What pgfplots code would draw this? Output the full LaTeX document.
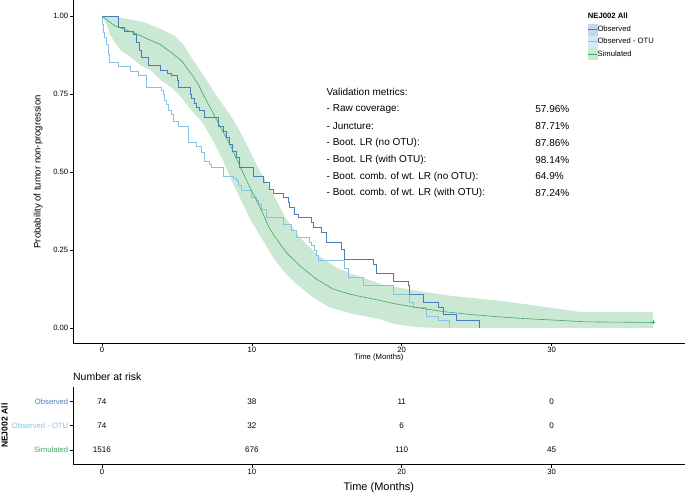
\documentclass[border=0pt]{standalone}
\usepackage{pgfplots}
\pgfplotsset{compat=1.18}
\usepgfplotslibrary{fillbetween}
\usepackage{fontspec}
\setmainfont{Liberation Sans}
\definecolor{obsc}{RGB}{74,126,186}
\definecolor{otuc}{RGB}{137,193,226}
\definecolor{simc}{RGB}{65,168,98}
\definecolor{simfill}{RGB}{202,232,212}
\definecolor{obsfill}{RGB}{200,214,234}
\definecolor{otufill}{RGB}{212,233,246}
\newcommand{\fs}[1]{\fontsize{#1}{#1}\selectfont}
\begin{document}
\begin{tikzpicture}
\path (0pt,0pt) rectangle (685pt,493pt);
\begin{axis}[
  at={(73pt,150.4pt)}, anchor=south west,
  width=612pt, height=343.2pt, scale only axis,
  xmin=-1.93, xmax=38.87, ymin=-0.05, ymax=1.05,
  axis lines=left, axis line style={-, black, line width=0.7pt},
  tick align=outside, major tick length=3pt, tick style={black, line width=0.5pt},
  xtick={0,10,20,30}, xticklabels={0,10,20,30},
  ytick={0,0.25,0.5,0.75,1}, yticklabels={0.00,0.25,0.50,0.75,1.00},
  /pgf/number format/assume math mode=true,
  ticklabel style={font=\fs{7.7}},
  xticklabel style={inner sep=1pt},
  yticklabel style={inner sep=1.5pt},
  xlabel={Time (Months)},
  xlabel style={font=\fs{7.7}, at={(axis description cs:0.5,-0.042)}, anchor=center},
  ylabel={Probability of tumor non-progression},
  ylabel style={font=\fs{9.5}, at={(axis description cs:-0.057,0.5)}, anchor=center, rotate=0},
  clip=false,
  legend style={at={(axis description cs:0.8415,0.933)}, anchor=north west, draw=none, fill=none,
    font=\fs{7.7}, inner sep=0pt, row sep=1pt,
    nodes={inner sep=0pt, anchor=west},
    /tikz/every even column/.append style={column sep=4pt}},
  legend cell align=left,
]
% simulated band
\addplot[name path=upper, draw=none, forget plot] coordinates {
(0,1) (0.87,0.997) (1.76,0.99) (2.87,0.979) (3.98,0.957) (4.87,0.936) (5.42,0.909)
(5.98,0.866) (6.87,0.802) (7.7,0.74) (8.53,0.685) (9.2,0.631) (9.87,0.567) (10.53,0.503)
(11.2,0.45) (11.87,0.386) (12.2,0.355) (13.2,0.29) (14.31,0.236) (15.64,0.193) (16.6,0.174)
(18.75,0.138) (20.98,0.119) (23.2,0.103) (26.5,0.087) (28.5,0.074) (30.5,0.06) (31.87,0.051) (36.75,0.051)};
\addplot[name path=lower, draw=none, forget plot] coordinates {
(0,1) (0.31,0.973) (0.53,0.941) (0.87,0.914) (1.31,0.888) (1.98,0.866) (2.64,0.84) (3.31,0.824)
(3.98,0.792) (4.64,0.77) (5.31,0.738) (5.98,0.696) (6.2,0.685) (6.75,0.655) (7.42,0.599)
(8.09,0.535) (8.76,0.46) (9.42,0.396) (9.95,0.343) (10.76,0.279) (11.42,0.225) (12.09,0.183)
(12.98,0.14) (14.09,0.097) (15.2,0.065) (16.75,0.044) (18.53,0.028) (19.5,0.012) (21,0.002)
(22,0) (36.75,0)};
\addplot[simfill, forget plot] fill between[of=upper and lower];
% observed - OTU
\addplot[otuc, line width=0.8pt, const plot, forget plot] coordinates {
(0,1) (0.05,0.973) (0.1,0.946) (0.2,0.932) (0.31,0.909) (0.42,0.877) (0.53,0.85) (1.09,0.837)
(1.87,0.822) (2.42,0.808) (2.98,0.77) (3.98,0.76) (4.09,0.749) (4.2,0.728) (4.31,0.717)
(4.42,0.696) (4.64,0.685) (4.75,0.663) (5.09,0.647) (5.76,0.594) (6.31,0.583) (6.64,0.562)
(6.87,0.535) (7.2,0.524) (7.31,0.514) (8.09,0.487) (8.76,0.478) (8.98,0.471) (9.09,0.455)
(9.31,0.439) (9.98,0.418) (10.31,0.407) (10.42,0.396) (10.64,0.38) (10.98,0.354) (12.09,0.332)
(12.64,0.311) (12.98,0.29) (13.87,0.273) (13.98,0.263) (14.2,0.247) (14.31,0.231) (14.42,0.215)
(16.2,0.19) (16.42,0.161) (17.42,0.135) (19.42,0.108) (20.53,0.081) (20.75,0.065) (21.64,0.038)
(22.42,0.025) (23.2,0) (23.2,0)};
% observed
\addplot[obsc, line width=0.8pt, const plot, forget plot] coordinates {
(0,1) (1.09,0.962) (1.53,0.95) (2.09,0.94) (2.27,0.914) (2.49,0.888) (2.64,0.866) (3.09,0.84)
(3.87,0.826) (4.36,0.815) (4.64,0.808) (5.02,0.792) (5.09,0.77) (5.87,0.749) (6.0,0.735)
(6.2,0.72) (6.3,0.706) (6.53,0.696) (6.87,0.674) (7.76,0.647) (8.09,0.631) (8.31,0.61)
(8.53,0.589) (8.71,0.567) (8.98,0.546) (9.2,0.514) (10.09,0.487) (10.76,0.466) (11.2,0.444)
(11.42,0.432) (12.09,0.418) (12.42,0.402) (12.53,0.386) (12.87,0.364) (13.09,0.354) (13.98,0.338)
(14.09,0.321) (14.64,0.305) (14.98,0.273) (15.98,0.252) (16.2,0.22) (18.09,0.204) (18.31,0.174)
(19.42,0.148) (20.42,0.135) (20.53,0.108) (21.42,0.081) (22.42,0.065) (22.75,0.044) (23.64,0.025)
(25.2,0) (25.2,0)};
% simulated line
\addplot[simc, line width=0.6pt, forget plot] coordinates {
(0,1) (0.4,0.985) (0.87,0.968) (1.5,0.957) (2.09,0.947) (2.87,0.93) (3.87,0.909) (4.64,0.882)
(5.31,0.856) (5.98,0.813) (6.42,0.781) (6.87,0.738) (7.4,0.69) (7.87,0.647) (8.53,0.589)
(9.2,0.519) (9.87,0.45) (10.3,0.41) (10.76,0.364) (11.09,0.327) (11.42,0.30) (12.31,0.241)
(13.2,0.199) (14.31,0.156) (15.42,0.124) (16.53,0.108) (16.98,0.103) (18.53,0.088) (19.42,0.078)
(21,0.065) (22.75,0.052) (24.5,0.043) (26.5,0.035) (28,0.03) (30,0.025) (32.3,0.019)
(34.5,0.018) (36.75,0.017)};
\addplot[simc, only marks, mark=+, mark size=2pt, forget plot] coordinates {(36.75,0.017)};
% legend
\addlegendimage{legend image code/.code={\fill[obsfill] (0pt,-5.5pt) rectangle (9pt,5.5pt); \draw[obsc, line width=0.6pt] (0pt,0pt)--(9pt,0pt);}}
\addlegendentry{Observed}
\addlegendimage{legend image code/.code={\fill[otufill] (0pt,-5.5pt) rectangle (9pt,5.5pt); \draw[otuc, line width=0.6pt] (0pt,0pt)--(9pt,0pt);}}
\addlegendentry{Observed - OTU}
\addlegendimage{legend image code/.code={\fill[simfill] (0pt,-5.5pt) rectangle (9pt,5.5pt); \draw[simc, line width=0.6pt] (0pt,0pt)--(9pt,0pt);}}
\addlegendentry{Simulated}
\node[anchor=west, inner sep=0pt, font=\bfseries\fs{7.7}] at (axis description cs:0.8415,0.9545) {NEJ002 All};
% validation metrics
\node[anchor=west, inner sep=0pt, font=\fs{10}] at (axis cs:14.98,0.755) {Validation metrics:};
\node[anchor=west, inner sep=0pt, font=\fs{10}] at (axis cs:14.98,0.701) {- Raw coverage:};
\node[anchor=west, inner sep=0pt, font=\fs{10}] at (axis cs:14.98,0.647) {- Juncture:};
\node[anchor=west, inner sep=0pt, font=\fs{10}] at (axis cs:14.98,0.593) {- Boot. LR (no OTU):};
\node[anchor=west, inner sep=0pt, font=\fs{10}] at (axis cs:14.98,0.539) {- Boot. LR (with OTU):};
\node[anchor=west, inner sep=0pt, font=\fs{10}] at (axis cs:14.98,0.485) {- Boot. comb. of wt. LR (no OTU):};
\node[anchor=west, inner sep=0pt, font=\fs{10}] at (axis cs:14.98,0.433) {- Boot. comb. of wt. LR (with OTU):};
\node[anchor=west, inner sep=0pt, font=\fs{10}] at (axis cs:28.9,0.701) {57.96\%};
\node[anchor=west, inner sep=0pt, font=\fs{10}] at (axis cs:28.9,0.647) {87.71\%};
\node[anchor=west, inner sep=0pt, font=\fs{10}] at (axis cs:28.9,0.593) {87.86\%};
\node[anchor=west, inner sep=0pt, font=\fs{10}] at (axis cs:28.9,0.539) {98.14\%};
\node[anchor=west, inner sep=0pt, font=\fs{10}] at (axis cs:28.9,0.485) {64.9\%};
\node[anchor=west, inner sep=0pt, font=\fs{10}] at (axis cs:28.9,0.433) {87.24\%};
\end{axis}
% risk table
\begin{axis}[
  at={(73pt,29pt)}, anchor=south west,
  width=612pt, height=78pt, scale only axis,
  xmin=-1.93, xmax=38.87, ymin=0.4, ymax=3.6,
  axis lines=left, axis line style={-, black, line width=0.7pt},
  tick align=outside, major tick length=3pt, tick style={black, line width=0.5pt},
  xtick={0,10,20,30}, xticklabels={0,10,20,30},
  ytick={1,2,3},
  yticklabels={\textcolor{simc}{Simulated},\textcolor{otuc}{Observed - OTU},\textcolor{obsc}{Observed}},
  /pgf/number format/assume math mode=true,
  ticklabel style={font=\fs{7.7}},
  xticklabel style={inner sep=1pt},
  yticklabel style={inner sep=1.5pt},
  title={Number at risk},
  title style={font=\fs{10.5}, at={(axis description cs:0,1)}, anchor=base west, inner sep=0pt, yshift=0.5pt},
  xlabel={Time (Months)},
  xlabel style={font=\fs{11}, at={(axis description cs:0.5,-0.29)}, anchor=center},
  ylabel={NEJ002 All},
  ylabel style={font=\bfseries\fs{8.6}, inner sep=0pt, at={(axis description cs:-0.1119,0.5)}, anchor=center, rotate=0},
  clip=false,
]
\addplot[draw=none, nodes near coords, point meta=explicit symbolic,
  nodes near coords style={anchor=center, font=\fs{8.1}, text=black, inner sep=0pt}]
  table[meta=lab] {
x y lab
0 3 74
10 3 38
20 3 11
30 3 0
0 2 74
10 2 32
20 2 6
30 2 0
0 1 1516
10 1 676
20 1 110
30 1 45
};
\end{axis}
\end{tikzpicture}
\end{document}
